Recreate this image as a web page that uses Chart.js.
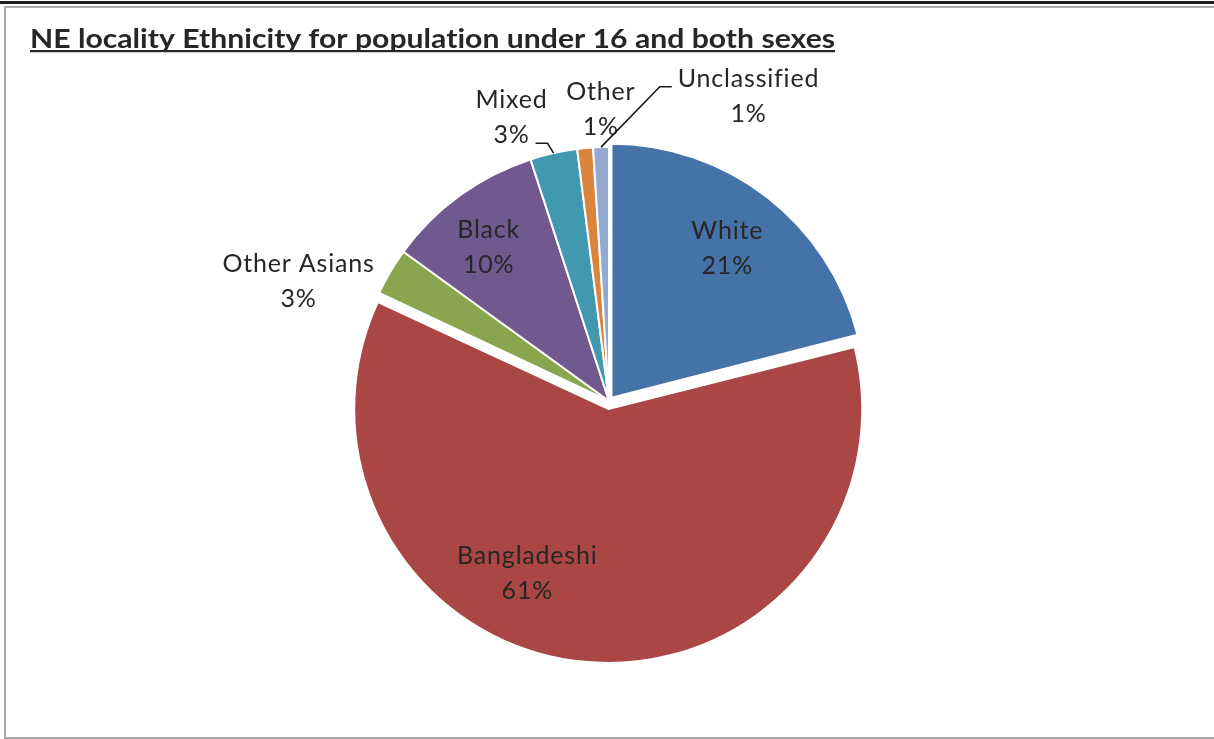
<!DOCTYPE html>
<html>
<head>
<meta charset="utf-8">
<title>NE locality Ethnicity for population under 16 and both sexes</title>
<script src="https://cdn.jsdelivr.net/npm/chart.js@4/dist/chart.umd.min.js"></script>
<style>
  html, body { margin: 0; padding: 0; background: #fff; overflow: hidden; }
  #wrap { position: relative; width: 1214px; height: 739px; }
  .top-rule { position: absolute; left: 0; top: 1px; width: 1214px; height: 3px; background: #1e1e1e; }
  .frame { position: absolute; left: 4px; top: 6px; width: 1230px; height: 729px; border: 2px solid #a9a9a9; }
  #pie { position: absolute; left: 0; top: 0; }
</style>
</head>
<body>
<div id="wrap">
  <div class="top-rule"></div>
  <div class="frame"></div>
  <canvas id="pie" width="1214" height="739"></canvas>
</div>
<script>
// --- data ---
const categories = ['White', 'Bangladeshi', 'Other Asians', 'Black', 'Mixed', 'Other', 'Unclassified'];
const shares = [21, 61, 3, 10, 3, 1, 1];   // per cent
const chartTitle = 'NE locality Ethnicity for population under 16 and both sexes';

const sliceColours = ['#4572A7', '#AA4643', '#89A54E', '#71588F', '#4198AF', '#DB843D', '#93A9CF'];
const pulledOut = [16, 32, 0, 0, 0, 0, 0];   // Chart.js arc offset (moves the slice by offset/4)

// where each label sits: distance as a fraction of the radius, and a turn (deg) off the slice's middle
const labelSpots = [
    { r: 0.76, turn: 0 },
    { r: 0.75, turn: 20 },
    { r: 1.31, turn: -9.6 },
    { r: 0.77, turn: -2 },
    { r: 1.18, turn: -6.4, leader: { side: 1, line: 1 } },
    { r: 1.15, turn: 3.8 },
    { r: 1.32, turn: 26.4, leader: { side: -1, line: 0 } }
];

const textColour = '#262626';
const labelFont = '25px Lato';
const lineGap = 35;

// Chart.js also grows the radius of a pulled-out slice wider than 180deg;
// take that back so the big slice keeps the same radius as the rest
const keepRadius = {
    id: 'keepRadius',
    afterDatasetUpdate(chart, args) {
        args.meta.data.forEach(arc => {
            const off = ((arc.options && arc.options.offset) || 0) / 4;
            const fix = 1 - Math.sin(Math.min(Math.PI, arc.circumference || 0));
            arc.outerRadius -= off * fix;
        });
    }
};

// title, bold + underlined, squeezed to the width Excel gave it
const titlePlugin = {
    id: 'underlinedTitle',
    afterDraw(chart) {
        const ctx = chart.ctx;
        const x = 30, y = 48, fitWidth = 805;
        ctx.save();
        ctx.font = 'bold 26px Lato';
        ctx.letterSpacing = '0.01px';   // keeps Lato from joining "ti" / "fi"
        ctx.fillStyle = textColour;
        ctx.textBaseline = 'alphabetic';
        const w = ctx.measureText(chartTitle).width;
        ctx.translate(x, 0);
        ctx.scale(fitWidth / w, 1);
        ctx.fillText(chartTitle, 0, y);
        ctx.fillRect(0, y + 2, w, 2.2);
        ctx.restore();
    }
};

// data labels: "name" over "nn%", with elbow leader lines for the small outside ones
const sliceLabels = {
    id: 'sliceLabels',
    afterDatasetsDraw(chart) {
        const ctx = chart.ctx;
        const arcs = chart.getDatasetMeta(0).data;
        ctx.save();
        ctx.font = labelFont;
        ctx.letterSpacing = '0.8px';
        ctx.fillStyle = textColour;
        ctx.strokeStyle = '#1a1a1a';
        ctx.lineWidth = 1.6;
        ctx.textAlign = 'center';
        ctx.textBaseline = 'middle';

        arcs.forEach((arc, i) => {
            const spot = labelSpots[i];
            const mid = (arc.startAngle + arc.endAngle) / 2;
            const R = arcs[0].outerRadius;
            const a = mid + spot.turn * Math.PI / 180;
            const cx = arc.x + Math.cos(a) * R * spot.r;
            const cy = arc.y + Math.sin(a) * R * spot.r;
            const lines = [categories[i], shares[i] + '%'];

            lines.forEach((t, k) => {
                ctx.fillText(t, cx, cy + (k - 0.5) * lineGap);
            });

            if (spot.leader) {
                const ln = spot.leader.line;
                const half = ctx.measureText(lines[ln]).width / 2;
                const ax = cx + spot.leader.side * (half + 6);
                const ay = cy + (ln - 0.5) * lineGap + 8;
                const ex = arc.x + Math.cos(mid) * arc.outerRadius;
                const ey = arc.y + Math.sin(mid) * arc.outerRadius;
                ctx.beginPath();
                ctx.moveTo(ax, ay);
                ctx.lineTo(ax + spot.leader.side * 12, ay);
                ctx.lineTo(ex, ey);
                ctx.stroke();
            }
        });
        ctx.restore();
    }
};

const ctx = document.getElementById('pie').getContext('2d');
new Chart(ctx, {
    type: 'pie',
    data: {
        labels: categories,
        datasets: [{
            data: shares,
            backgroundColor: sliceColours,
            borderColor: '#ffffff',
            borderWidth: 2,
            offset: pulledOut,
            radius: 254
        }]
    },
    options: {
        responsive: false,
        animation: false,
        layout: { padding: { left: 100, right: 96, top: 100, bottom: 37 } },
        plugins: {
            legend: { display: false },
            tooltip: { enabled: false }
        }
    },
    plugins: [keepRadius, sliceLabels, titlePlugin]
});
</script>
</body>
</html>
